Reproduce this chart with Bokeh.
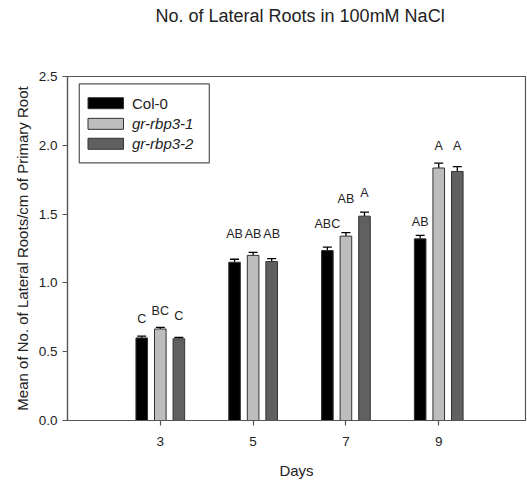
from bokeh.plotting import figure
from bokeh.models import ColumnDataSource, Whisker, TeeHead, FixedTicker, Range1d, Title, CustomJSTickFormatter
from bokeh.core.properties import value
from bokeh.embed import file_html
from bokeh.resources import INLINE

# ---- data ----
days = [3, 5, 7, 9]
series_names = ["Col-0", "gr-rbp3-1", "gr-rbp3-2"]
col0_mean = [0.60, 1.15, 1.235, 1.32]
rbp1_mean = [0.665, 1.20, 1.34, 1.835]
rbp2_mean = [0.594, 1.155, 1.485, 1.81]
col0_err = [0.013, 0.022, 0.025, 0.025]
rbp1_err = [0.012, 0.022, 0.025, 0.035]
rbp2_err = [0.010, 0.022, 0.030, 0.035]
col0_letters = ["C", "AB", "ABC", "AB"]
rbp1_letters = ["BC", "AB", "AB", "A"]
rbp2_letters = ["C", "AB", "A", "A"]
col0_letter_y = [0.74, 1.352, 1.43, 1.446]
rbp1_letter_y = [0.794, 1.352, 1.611, 1.998]
rbp2_letter_y = [0.763, 1.352, 1.655, 1.998]
y_ticks = [0.0, 0.5, 1.0, 1.5, 2.0, 2.5]
title_text = "No. of Lateral Roots in 100mM NaCl"

# ---- styles ----
FONT = "Liberation Sans"
colors = ["#000000", "#bdbdbd", "#606060"]
offsets = [-0.4, 0.0, 0.4]
bar_w = 0.25
axis_col = "#555555"

p = figure(width=527, height=487, output_backend="svg", toolbar_location=None,
           x_range=Range1d(1.0, 10.87), y_range=Range1d(0, 2.5),
           min_border_left=67, min_border_right=2, min_border_top=76, min_border_bottom=67)
# trailing blank lines leave the gap between the title and the frame
p.title = Title(text=title_text + "\n\n", align="left", offset=88,
                text_font=FONT, text_font_size="18px", text_font_style="normal",
                text_color="#222222", text_line_height=1.2, standoff=6)
p.grid.visible = False
p.outline_line_color = axis_col
p.outline_line_width = 1.2
p.background_fill_color = "white"
p.border_fill_color = "white"

means = [col0_mean, rbp1_mean, rbp2_mean]
errs = [col0_err, rbp1_err, rbp2_err]
letters = [col0_letters, rbp1_letters, rbp2_letters]
letter_ys = [col0_letter_y, rbp1_letter_y, rbp2_letter_y]

for i in range(3):
    xs = [d + offsets[i] for d in days]
    src = ColumnDataSource(dict(x=xs, top=means[i],
                                up=[m + e for m, e in zip(means[i], errs[i])],
                                lab=letters[i], ly=letter_ys[i]))
    p.vbar(x="x", top="top", width=bar_w, bottom=0, source=src,
           fill_color=colors[i], line_color="#333333", line_width=1)
    w = Whisker(base="x", lower="top", upper="up", source=src,
                line_color="black", line_width=1.3,
                upper_head=TeeHead(size=9, line_color="black", line_width=1.3),
                lower_head=None)
    p.add_layout(w)
    p.text(x="x", y="ly", text="lab", source=src, text_align="center",
           text_baseline="middle", text_font=value(FONT),
           text_font_size="12.5px", text_color="#222222")

# ---- manual legend (layout in data coordinates of the fixed frame) ----
p.quad(left=[1.254], right=[4.056], bottom=[1.873], top=[2.447],
       fill_color="white", line_color=axis_col, line_width=1.2)
leg_rows = [2.306, 2.156, 2.011]
p.quad(left=[1.442] * 3, right=[2.207] * 3,
       bottom=[r - 0.04 for r in leg_rows], top=[r + 0.04 for r in leg_rows],
       fill_color=colors, line_color="#333333", line_width=1)
p.text(x=[2.39], y=[leg_rows[0]], text=[series_names[0]], text_baseline="middle",
       text_font=value(FONT), text_font_size="15px", text_color="#222222")
p.text(x=[2.39, 2.39], y=leg_rows[1:], text=series_names[1:], text_baseline="middle",
       text_font=value(FONT), text_font_size="15px", text_font_style="italic",
       text_color="#222222")

# ---- axes ----
p.xaxis.ticker = FixedTicker(ticks=days)
p.yaxis.ticker = FixedTicker(ticks=y_ticks)
p.yaxis.formatter = CustomJSTickFormatter(code="return tick.toFixed(1);")
for ax in (p.xaxis, p.yaxis):
    ax.axis_line_color = axis_col
    ax.axis_line_width = 1.2
    ax.major_tick_line_color = axis_col
    ax.major_tick_line_width = 1.2
    ax.major_tick_out = 5
    ax.major_tick_in = 0
    ax.minor_tick_line_color = None
    ax.major_label_text_font = FONT
    ax.major_label_text_font_size = "13.5px"
    ax.major_label_text_color = "#222222"
    ax.axis_label_text_font = FONT
    ax.axis_label_text_font_size = "15px"
    ax.axis_label_text_font_style = "normal"
    ax.axis_label_text_color = "#222222"
p.xaxis.axis_label = "Days"
p.yaxis.axis_label = "Mean of No. of Lateral Roots/cm of Primary Root"
p.xaxis.major_label_standoff = 11
p.xaxis.axis_label_standoff = 13
p.yaxis.major_label_standoff = 5
p.yaxis.axis_label_standoff = 5

open("out.html", "w").write(file_html(p, INLINE))
